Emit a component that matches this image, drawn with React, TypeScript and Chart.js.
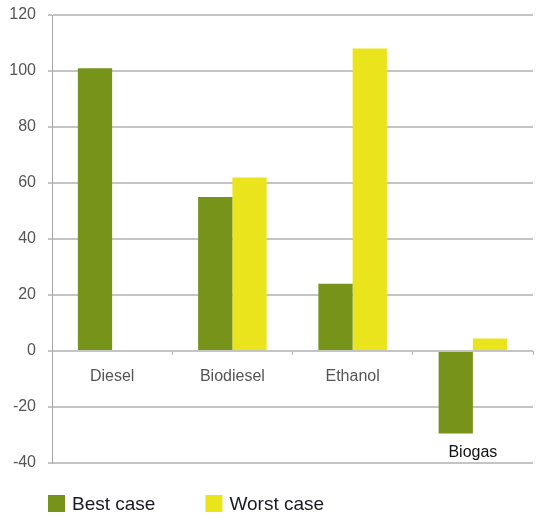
import React, { useEffect, useRef } from "react";
import { Chart, registerables } from "chart.js";

Chart.register(...registerables);

const categories = ["Diesel", "Biodiesel", "Ethanol", "Biogas"];
const bestCase = [101, 55, 24, -29.5];
const worstCase = [null, 62, 108, 4.5];
const seriesNames = ["Best case", "Worst case"];
const seriesColors = ["#77931a", "#e9e41c"];
const yMin = -40;
const yMax = 120;
const yStep = 20;

const categoryLabelPlugin = {
  id: "categoryLabels",
  afterDatasetsDraw(chart: any) {
    const { ctx } = chart;
    const x = chart.scales.x;
    const y = chart.scales.y;
    const zero = y.getPixelForValue(0);
    ctx.save();
    ctx.font = "16px 'Liberation Sans', Arial, sans-serif";
    ctx.textAlign = "center";
    ctx.textBaseline = "middle";
    categories.forEach((c, i) => {
      const vals = chart.data.datasets
        .map((d: any) => d.data[i])
        .filter((v: any) => v !== null && v !== undefined);
      const minVal = Math.min(0, ...vals);
      const cx = x.getPixelForValue(i);
      let cy = zero + 26;
      let color = "#555555";
      if (minVal < 0) {
        cy = Math.max(cy, y.getPixelForValue(minVal) + 19);
        color = "#111111";
      }
      ctx.fillStyle = color;
      ctx.fillText(c, cx, cy);
    });
    ctx.restore();
  },
};

const legendPlugin = {
  id: "customLegend",
  afterDraw(chart: any) {
    const { ctx } = chart;
    ctx.save();
    ctx.font = "19px 'Liberation Sans', Arial, sans-serif";
    ctx.textBaseline = "middle";
    ctx.textAlign = "left";
    let x = 48;
    const yTop = 495;
    const box = 17;
    chart.data.datasets.forEach((d: any) => {
      ctx.fillStyle = d.backgroundColor;
      ctx.fillRect(x, yTop, box, box);
      ctx.fillStyle = "#1a1a22";
      ctx.fillText(d.label, x + 24, yTop + box / 2 + 1);
      x += 24 + ctx.measureText(d.label).width + 50;
    });
    ctx.restore();
  },
};

export default function App() {
  const ref = useRef<HTMLCanvasElement>(null);
  useEffect(() => {
    if (!ref.current) return;
    const chart = new Chart(ref.current, {
      type: "bar",
      data: {
        labels: categories,
        datasets: [
          {
            label: seriesNames[0],
            data: bestCase,
            backgroundColor: seriesColors[0],
            categoryPercentage: 0.57,
            barPercentage: 1,
          },
          {
            label: seriesNames[1],
            data: worstCase as any,
            backgroundColor: seriesColors[1],
            categoryPercentage: 0.57,
            barPercentage: 1,
          },
        ],
      },
      options: {
        responsive: false,
        animation: false,
        layout: { padding: { top: 15, right: 3, bottom: 54, left: 0 } },
        plugins: {
          legend: { display: false },
          tooltip: { enabled: false },
        },
        scales: {
          x: {
            position: { y: 0 } as any,
            ticks: { display: false },
            grid: {
              offset: true,
              drawOnChartArea: false,
              drawTicks: true,
              tickLength: 4,
              color: "#b5b5b5",
            },
            border: { display: false },
          },
          y: {
            min: yMin,
            max: yMax,
            ticks: {
              stepSize: yStep,
              padding: 12,
              color: "#555555",
              font: { size: 16, family: "'Liberation Sans', Arial, sans-serif" },
            },
            grid: { color: "#c4c4c4", lineWidth: 2, tickLength: 4 },
            border: { display: true, color: "#a8a8a8", width: 1 },
            afterFit: (s: any) => {
              s.width = 52;
              s.paddingTop = 0;
              s.paddingBottom = 0;
            },
          },
        },
      },
      plugins: [categoryLabelPlugin, legendPlugin],
    });
    return () => chart.destroy();
  }, []);
  return (
    <div style={{ position: "absolute", left: 0, top: 0, width: 536, height: 517, background: "#fff" }}>
      <canvas ref={ref} width={536} height={517} style={{ display: "block" }} />
    </div>
  );
}
